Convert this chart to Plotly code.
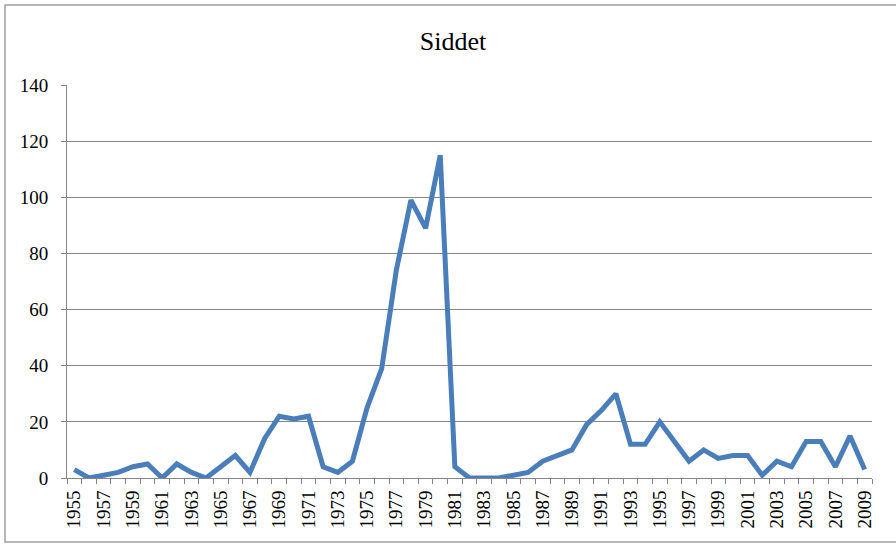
import plotly.graph_objects as go

years = [str(y) for y in range(1955, 2010)]
values = [3, 0, 1, 2, 4, 5, 0, 5, 2, 0,
          4, 8, 2, 14, 22, 21, 22, 4, 2, 6,
          25, 39, 74, 99, 89, 115, 4, 0, 0, 0,
          1, 2, 6, 8, 10, 19, 24, 30, 12, 12,
          20, 13, 6, 10, 7, 8, 8, 1, 6, 4,
          13, 13, 4, 15, 3]
tick_labels = [y if (int(y) - 1955) % 2 == 0 else "" for y in years]
y_ticks = [0, 20, 40, 60, 80, 100, 120, 140]

W, H = 896, 546
L, R, T, B = 67, 24, 85, 68
pw, ph = W - L - R, H - T - B

fig = go.Figure()
fig.add_trace(go.Scatter(
    x=years, y=values, mode="lines",
    line=dict(color="#4A7EBB", width=5),
    hoverinfo="x+y",
))

font = "'Liberation Serif', 'Times New Roman', serif"
fig.update_layout(
    width=W, height=H,
    margin=dict(l=L, r=R, t=T, b=B),
    paper_bgcolor="white", plot_bgcolor="white",
    showlegend=False,
    title=dict(text="Siddet", x=453 / W, xanchor="center", xref="container",
               y=1 - 41 / H, yanchor="middle", yref="container",
               font=dict(family=font, size=26, color="black")),
    font=dict(family=font, size=19, color="black"),
    xaxis=dict(
        type="category", tickmode="array", tickvals=years, ticktext=tick_labels,
        range=[-0.5, len(years) - 0.5],
        tickangle=-90, tickson="boundaries", ticks="outside", ticklen=5,
        tickcolor="#868686", showline=True, linecolor="#868686", linewidth=1,
        showgrid=False, zeroline=False, ticklabelstandoff=4,
        tickfont=dict(family=font, size=19, color="black"),
    ),
    yaxis=dict(
        range=[0, 140], tickvals=y_ticks, ticks="outside", ticklen=5,
        tickcolor="#868686", showline=True, linecolor="#868686", linewidth=1,
        showgrid=True, gridcolor="#868686", gridwidth=1, zeroline=False,
        ticklabelstandoff=9,
        tickfont=dict(family=font, size=19, color="black"),
    ),
    shapes=[dict(type="rect", xref="paper", yref="paper",
                 x0=(5 - L) / pw, x1=(900 - L) / pw,
                 y0=(H - B - 542) / ph, y1=(H - B - 5) / ph,
                 line=dict(color="#A0A0A0", width=1.5), layer="below")],
)

fig.write_html("out.html", config={"displayModeBar": False},
               post_script="document.body.style.margin='0';")
